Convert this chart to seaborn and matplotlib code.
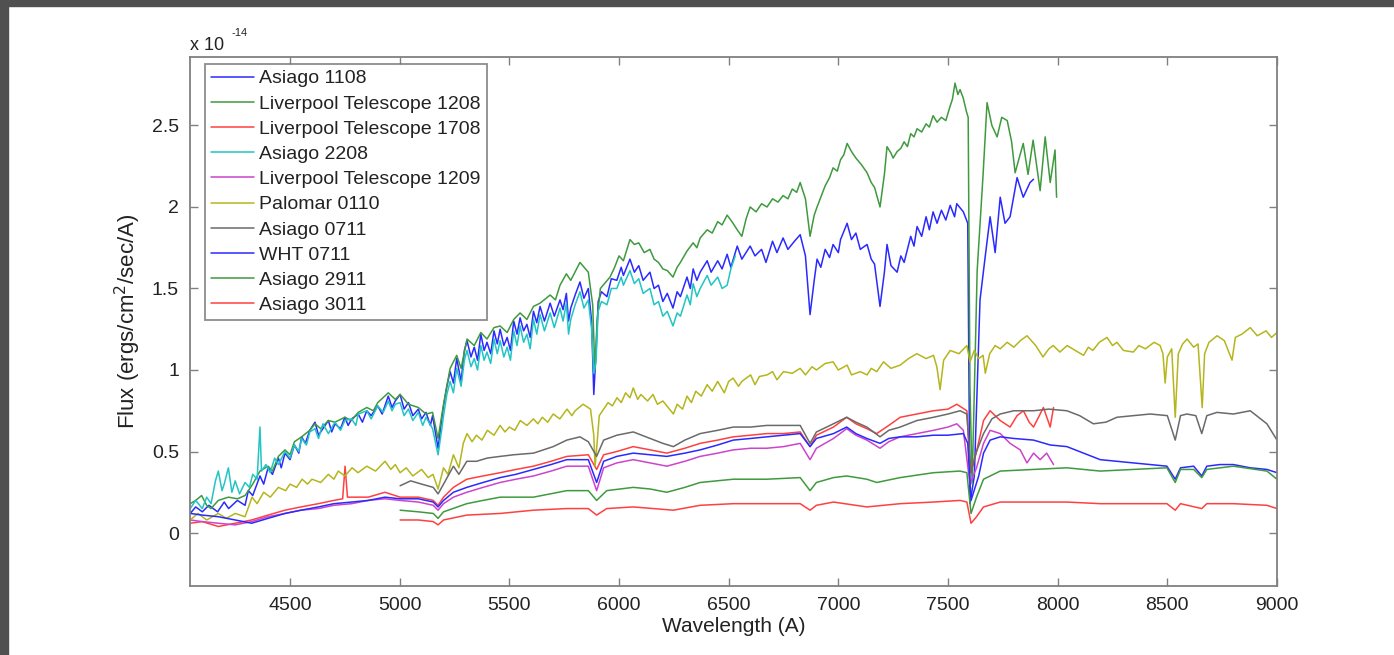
import numpy as np
import pandas as pd
import matplotlib
matplotlib.use('Agg')
import matplotlib.pyplot as plt
import seaborn as sns
from matplotlib.patches import Rectangle

# 1. Data (flux in units of 1e-14 ergs/cm2/sec/A)
wl_asiago_1108 = [4045, 4070, 4100, 4130, 4170, 4200, 4220, 4260, 4295, 4310, 4330, 4363, 4380, 4400, 4420,
                  4447, 4460, 4477, 4500, 4520, 4540, 4553, 4570, 4590, 4614, 4630, 4650, 4675, 4690, 4705,
                  4730, 4750, 4765, 4781, 4811, 4830, 4850, 4870, 4900, 4920, 4948, 4965, 4980, 5002, 5020,
                  5040, 5060, 5085, 5100, 5120, 5140, 5150, 5175, 5190, 5200, 5215, 5230, 5245, 5260, 5280,
                  5295, 5307, 5325, 5340, 5355, 5370, 5385, 5398, 5415, 5430, 5445, 5458, 5475, 5490, 5505,
                  5520, 5535, 5549, 5565, 5580, 5595, 5610, 5625, 5640, 5660, 5686, 5705, 5731, 5745, 5760,
                  5770, 5780, 5800, 5822, 5840, 5860, 5875, 5885, 5895, 5905, 5920, 5945, 5965, 5990, 6010,
                  6020, 6050, 6070, 6090, 6110, 6141, 6160, 6180, 6200, 6220, 6246, 6265, 6280, 6310, 6325,
                  6338, 6355, 6370, 6402, 6420, 6450, 6470, 6493, 6510, 6539, 6560, 6598, 6620, 6650, 6670,
                  6700, 6720, 6748, 6770, 6800, 6826, 6850, 6871, 6890, 6903, 6920, 6940, 6960, 6976, 7000,
                  7010, 7040, 7060, 7080, 7100, 7131, 7150, 7165, 7190, 7210, 7222, 7240, 7268, 7285, 7300,
                  7330, 7345, 7359, 7380, 7400, 7415, 7432, 7450, 7470, 7490, 7510, 7530, 7540, 7570, 7590,
                  7600, 7620, 7646, 7670, 7692, 7715, 7738, 7760, 7783, 7815, 7843, 7874, 7890]
fx_asiago_1108 = [0.12, 0.16, 0.13, 0.17, 0.13, 0.19, 0.15, 0.20, 0.17, 0.26, 0.23, 0.35, 0.30, 0.40, 0.36,
                  0.46, 0.40, 0.49, 0.45, 0.54, 0.49, 0.59, 0.55, 0.63, 0.68, 0.60, 0.64, 0.69, 0.62, 0.67,
                  0.64, 0.71, 0.66, 0.70, 0.73, 0.68, 0.75, 0.72, 0.78, 0.73, 0.84, 0.77, 0.81, 0.85, 0.76,
                  0.80, 0.72, 0.76, 0.70, 0.74, 0.66, 0.72, 0.52, 0.68, 0.78, 0.90, 0.99, 0.92, 1.07, 0.93,
                  1.12, 1.18, 1.08, 1.14, 1.06, 1.22, 1.12, 1.17, 1.10, 1.24, 1.16, 1.25, 1.15, 1.20, 1.12,
                  1.30, 1.22, 1.32, 1.24, 1.28, 1.20, 1.36, 1.29, 1.39, 1.30, 1.41, 1.33, 1.43, 1.37, 1.47,
                  1.30, 1.38, 1.46, 1.54, 1.44, 1.50, 1.30, 0.85, 1.10, 1.42, 1.48, 1.45, 1.56, 1.55, 1.63,
                  1.58, 1.68, 1.60, 1.64, 1.55, 1.60, 1.50, 1.52, 1.42, 1.47, 1.38, 1.48, 1.45, 1.57, 1.50,
                  1.62, 1.55, 1.60, 1.67, 1.60, 1.67, 1.62, 1.71, 1.63, 1.76, 1.68, 1.76, 1.70, 1.74, 1.66,
                  1.79, 1.72, 1.81, 1.74, 1.79, 1.83, 1.70, 1.34, 1.55, 1.68, 1.63, 1.74, 1.69, 1.77, 1.72,
                  1.80, 1.90, 1.80, 1.84, 1.74, 1.77, 1.68, 1.65, 1.39, 1.60, 1.77, 1.64, 1.60, 1.70, 1.66,
                  1.82, 1.76, 1.88, 1.82, 1.94, 1.86, 1.97, 1.90, 1.98, 1.92, 2.01, 1.94, 2.02, 1.97, 1.90,
                  0.18, 0.35, 1.43, 1.70, 1.94, 1.72, 2.06, 1.90, 1.94, 2.18, 2.06, 2.15, 2.17]

wl_lt_1208 = [4045, 4070, 4097, 4120, 4140, 4173, 4219, 4260, 4295, 4330, 4363, 4400,
              4420, 4447, 4477, 4500, 4520, 4553, 4590, 4614, 4640, 4675, 4705, 4750,
              4780, 4811, 4850, 4880, 4900, 4948, 4980, 5002, 5040, 5085, 5120, 5150,
              5175, 5200, 5230, 5260, 5280, 5307, 5340, 5370, 5398, 5430, 5458, 5490,
              5520, 5549, 5580, 5610, 5640, 5686, 5710, 5731, 5760, 5780, 5822, 5860,
              5880, 5890, 5900, 5915, 5959, 5980, 6000, 6020, 6050, 6070, 6090, 6115,
              6141, 6160, 6180, 6200, 6220, 6246, 6265, 6280, 6310, 6338, 6355, 6370,
              6402, 6425, 6450, 6470, 6493, 6515, 6539, 6560, 6580, 6598, 6625, 6650,
              6675, 6700, 6725, 6748, 6770, 6790, 6810, 6826, 6850, 6871, 6890, 6903,
              6920, 6940, 6960, 6976, 6995, 7010, 7025, 7040, 7060, 7080, 7105, 7131,
              7150, 7165, 7190, 7210, 7222, 7240, 7250, 7268, 7285, 7300, 7315, 7330,
              7345, 7359, 7380, 7400, 7415, 7432, 7450, 7470, 7490, 7510, 7520, 7532,
              7545, 7555, 7569, 7585, 7592, 7600, 7610, 7633, 7660, 7678, 7700, 7724,
              7745, 7770, 7790, 7806, 7843, 7865, 7888, 7920, 7943, 7966, 7988, 7995]
fx_lt_1208 = [0.18, 0.20, 0.23, 0.17, 0.15, 0.20, 0.22, 0.21, 0.23, 0.30, 0.38, 0.41,
              0.38, 0.47, 0.51, 0.48, 0.56, 0.59, 0.63, 0.67, 0.64, 0.69, 0.68, 0.71,
              0.69, 0.74, 0.77, 0.75, 0.80, 0.86, 0.82, 0.85, 0.79, 0.77, 0.73, 0.74,
              0.58, 0.79, 1.01, 1.09, 1.01, 1.19, 1.15, 1.23, 1.19, 1.26, 1.27, 1.23,
              1.31, 1.35, 1.31, 1.39, 1.41, 1.46, 1.43, 1.52, 1.59, 1.55, 1.66, 1.60,
              1.40, 1.00, 1.30, 1.50, 1.57, 1.63, 1.70, 1.67, 1.80, 1.77, 1.78, 1.72,
              1.74, 1.68, 1.66, 1.62, 1.61, 1.57, 1.63, 1.66, 1.73, 1.78, 1.75, 1.81,
              1.86, 1.84, 1.91, 1.89, 1.95, 1.91, 1.86, 1.82, 1.93, 2.00, 1.97, 2.02,
              2.00, 2.05, 2.03, 2.07, 2.05, 2.11, 2.09, 2.15, 2.05, 1.82, 1.95, 2.00,
              2.06, 2.13, 2.18, 2.24, 2.22, 2.29, 2.32, 2.39, 2.34, 2.30, 2.26, 2.21,
              2.15, 2.12, 2.00, 2.20, 2.37, 2.33, 2.30, 2.34, 2.36, 2.40, 2.37, 2.45,
              2.43, 2.48, 2.46, 2.51, 2.49, 2.56, 2.52, 2.55, 2.53, 2.62, 2.66, 2.76,
              2.69, 2.72, 2.67, 2.58, 2.55, 0.90, 0.30, 1.61, 2.20, 2.64, 2.50, 2.43,
              2.55, 2.53, 2.40, 2.21, 2.39, 2.20, 2.41, 2.10, 2.43, 2.15, 2.35, 2.06]

wl_lt_1708 = [4045, 4100, 4173, 4250, 4325, 4400, 4477, 4550, 4629, 4700, 4740, 4751, 4762, 4811, 4857,
              4933, 5002, 5085, 5153, 5175, 5200, 5245, 5306, 5380, 5458, 5530, 5610, 5690, 5762, 5860,
              5898, 5930, 5990, 6065, 6142, 6218, 6300, 6370, 6450, 6521, 6600, 6674, 6750, 6826, 6871,
              6900, 6978, 7038, 7080, 7130, 7175, 7230, 7282, 7358, 7434, 7500, 7540, 7586, 7601, 7630,
              7662, 7692, 7738, 7783, 7815, 7844, 7870, 7890, 7935, 7966, 7981]
fx_lt_1708 = [0.06, 0.07, 0.04, 0.06, 0.08, 0.11, 0.14, 0.16, 0.18, 0.20, 0.21, 0.41, 0.22, 0.22, 0.22,
              0.25, 0.22, 0.22, 0.20, 0.17, 0.22, 0.28, 0.33, 0.35, 0.37, 0.39, 0.41, 0.44, 0.47, 0.48,
              0.39, 0.48, 0.50, 0.53, 0.51, 0.49, 0.52, 0.55, 0.57, 0.59, 0.60, 0.61, 0.61, 0.62, 0.53,
              0.60, 0.65, 0.71, 0.67, 0.64, 0.61, 0.66, 0.71, 0.73, 0.75, 0.76, 0.79, 0.75, 0.37, 0.50,
              0.69, 0.75, 0.69, 0.65, 0.72, 0.75, 0.68, 0.65, 0.77, 0.65, 0.77]

wl_asiago_2208 = [4045, 4070, 4100, 4120, 4140, 4160, 4173, 4190, 4200, 4219, 4235, 4250, 4270, 4295, 4315,
                  4330, 4350, 4363, 4370, 4390, 4410, 4430, 4447, 4477, 4500, 4520, 4540, 4553, 4575, 4590,
                  4614, 4630, 4650, 4675, 4705, 4730, 4750, 4781, 4800, 4811, 4850, 4870, 4900, 4925, 4948,
                  4965, 4980, 5002, 5020, 5040, 5060, 5085, 5105, 5120, 5150, 5175, 5190, 5200, 5215, 5230,
                  5245, 5260, 5280, 5295, 5307, 5325, 5340, 5355, 5370, 5385, 5398, 5415, 5430, 5445, 5458,
                  5475, 5490, 5505, 5520, 5535, 5549, 5565, 5580, 5595, 5610, 5625, 5640, 5660, 5686, 5705,
                  5731, 5745, 5760, 5770, 5780, 5800, 5822, 5840, 5860, 5875, 5885, 5895, 5905, 5920, 5945,
                  5965, 5990, 6010, 6020, 6050, 6070, 6090, 6110, 6141, 6160, 6180, 6200, 6220, 6246, 6265,
                  6280, 6310, 6325, 6338, 6355, 6370, 6402, 6420, 6450, 6470, 6493, 6510, 6530]
fx_asiago_2208 = [0.15, 0.20, 0.15, 0.22, 0.18, 0.32, 0.38, 0.26, 0.30, 0.40, 0.25, 0.32, 0.24, 0.31, 0.28,
                  0.36, 0.33, 0.65, 0.38, 0.42, 0.37, 0.46, 0.42, 0.50, 0.46, 0.54, 0.50, 0.58, 0.54, 0.62,
                  0.64, 0.58, 0.67, 0.61, 0.68, 0.63, 0.69, 0.70, 0.66, 0.73, 0.75, 0.70, 0.78, 0.74, 0.81,
                  0.75, 0.79, 0.80, 0.72, 0.76, 0.69, 0.74, 0.66, 0.71, 0.64, 0.48, 0.62, 0.72, 0.85, 0.93,
                  0.86, 1.01, 0.90, 1.06, 1.12, 1.02, 1.07, 1.00, 1.15, 1.06, 1.11, 1.04, 1.19, 1.10, 1.18,
                  1.08, 1.14, 1.06, 1.24, 1.15, 1.27, 1.17, 1.22, 1.13, 1.31, 1.22, 1.34, 1.24, 1.35, 1.26,
                  1.38, 1.30, 1.41, 1.22, 1.31, 1.40, 1.48, 1.38, 1.43, 1.25, 0.98, 1.05, 1.36, 1.42, 1.40,
                  1.50, 1.50, 1.57, 1.52, 1.61, 1.53, 1.56, 1.47, 1.50, 1.40, 1.42, 1.33, 1.36, 1.27, 1.35,
                  1.33, 1.46, 1.40, 1.53, 1.45, 1.50, 1.58, 1.52, 1.57, 1.50, 1.52, 1.62, 1.70]

wl_lt_1209 = [4045, 4100, 4173, 4250, 4325, 4400, 4477, 4550, 4629, 4700, 4781, 4857, 4933, 5002, 5085,
              5153, 5175, 5200, 5245, 5306, 5380, 5458, 5530, 5610, 5690, 5762, 5860, 5898, 5930, 5990,
              6065, 6142, 6218, 6300, 6370, 6450, 6521, 6600, 6674, 6750, 6826, 6871, 6900, 6978, 7038,
              7080, 7130, 7190, 7230, 7282, 7358, 7434, 7500, 7540, 7570, 7600, 7630, 7662, 7692, 7738,
              7783, 7829, 7860, 7890, 7920, 7950, 7981]
fx_lt_1209 = [0.08, 0.07, 0.06, 0.05, 0.07, 0.10, 0.12, 0.14, 0.15, 0.17, 0.18, 0.20, 0.21, 0.20, 0.19,
              0.17, 0.14, 0.18, 0.22, 0.25, 0.28, 0.31, 0.33, 0.35, 0.38, 0.41, 0.41, 0.26, 0.40, 0.43,
              0.45, 0.43, 0.41, 0.44, 0.47, 0.49, 0.51, 0.52, 0.52, 0.53, 0.55, 0.45, 0.52, 0.58, 0.64,
              0.60, 0.57, 0.52, 0.56, 0.59, 0.61, 0.63, 0.65, 0.67, 0.63, 0.30, 0.40, 0.55, 0.63, 0.61,
              0.55, 0.51, 0.43, 0.49, 0.45, 0.49, 0.42]

wl_palomar_0110 = [4045, 4080, 4120, 4173, 4210, 4250, 4295, 4327, 4350, 4380, 4410, 4447, 4480, 4500, 4530,
                   4555, 4580, 4600, 4640, 4675, 4700, 4720, 4750, 4783, 4810, 4850, 4890, 4933, 4960, 4980,
                   5002, 5030, 5060, 5100, 5130, 5152, 5175, 5200, 5220, 5245, 5270, 5290, 5307, 5330, 5350,
                   5375, 5400, 5430, 5458, 5480, 5500, 5525, 5550, 5580, 5610, 5630, 5650, 5675, 5700, 5730,
                   5763, 5785, 5800, 5836, 5870, 5885, 5891, 5900, 5910, 5950, 5970, 5991, 6010, 6030, 6050,
                   6065, 6085, 6100, 6130, 6155, 6175, 6200, 6230, 6248, 6265, 6290, 6310, 6330, 6350, 6375,
                   6402, 6425, 6450, 6480, 6500, 6520, 6545, 6560, 6600, 6620, 6640, 6675, 6700, 6720, 6750,
                   6790, 6826, 6850, 6880, 6900, 6940, 6976, 7000, 7040, 7060, 7100, 7131, 7150, 7175, 7206,
                   7240, 7282, 7320, 7358, 7400, 7434, 7449, 7464, 7480, 7510, 7550, 7586, 7600, 7620, 7640,
                   7660, 7670, 7690, 7715, 7738, 7770, 7800, 7830, 7860, 7900, 7933, 7960, 7980, 8010, 8043,
                   8080, 8118, 8140, 8160, 8190, 8225, 8250, 8270, 8300, 8345, 8370, 8400, 8440, 8467, 8480,
                   8490, 8500, 8520, 8536, 8550, 8570, 8590, 8620, 8640, 8659, 8670, 8690, 8727, 8760, 8795,
                   8810, 8840, 8878, 8910, 8950, 8975, 9000]
fx_palomar_0110 = [0.08, 0.12, 0.08, 0.12, 0.09, 0.12, 0.10, 0.22, 0.18, 0.25, 0.22, 0.28, 0.26, 0.30, 0.28,
                   0.33, 0.30, 0.33, 0.31, 0.36, 0.33, 0.38, 0.35, 0.40, 0.37, 0.41, 0.38, 0.44, 0.39, 0.42,
                   0.37, 0.40, 0.35, 0.39, 0.34, 0.36, 0.27, 0.40, 0.36, 0.48, 0.40, 0.55, 0.61, 0.56, 0.60,
                   0.57, 0.63, 0.60, 0.66, 0.62, 0.65, 0.63, 0.69, 0.66, 0.70, 0.67, 0.71, 0.68, 0.73, 0.70,
                   0.76, 0.72, 0.75, 0.79, 0.76, 0.60, 0.41, 0.55, 0.72, 0.80, 0.78, 0.83, 0.80, 0.86, 0.83,
                   0.89, 0.82, 0.85, 0.81, 0.85, 0.79, 0.81, 0.76, 0.73, 0.79, 0.76, 0.84, 0.80, 0.87, 0.84,
                   0.91, 0.87, 0.93, 0.86, 0.93, 0.95, 0.90, 0.93, 0.97, 0.91, 0.96, 0.97, 0.99, 0.94, 0.99,
                   0.98, 1.01, 0.97, 1.02, 1.00, 1.04, 1.05, 1.00, 1.03, 0.97, 0.99, 0.97, 1.01, 0.99, 1.05,
                   1.01, 1.03, 1.07, 1.10, 1.07, 1.09, 1.02, 0.88, 1.06, 1.12, 1.10, 1.15, 1.05, 1.12, 1.07,
                   1.09, 0.98, 1.10, 1.15, 1.13, 1.17, 1.14, 1.18, 1.21, 1.15, 1.08, 1.13, 1.15, 1.11, 1.15,
                   1.12, 1.09, 1.14, 1.12, 1.17, 1.20, 1.15, 1.17, 1.12, 1.11, 1.15, 1.13, 1.17, 1.15, 1.10,
                   0.92, 1.08, 1.13, 0.71, 1.10, 1.16, 1.19, 1.14, 1.16, 0.77, 1.10, 1.17, 1.21, 1.18, 1.06,
                   1.20, 1.22, 1.26, 1.21, 1.24, 1.20, 1.23]

wl_asiago_0711 = [5002, 5050, 5100, 5153, 5175, 5200, 5245, 5270, 5306, 5350, 5400, 5458, 5520, 5610, 5700,
                  5762, 5822, 5860, 5898, 5930, 5990, 6065, 6142, 6200, 6248, 6300, 6370, 6450, 6521, 6600,
                  6674, 6750, 6826, 6871, 6900, 6947, 7038, 7080, 7130, 7190, 7230, 7282, 7358, 7434, 7500,
                  7555, 7586, 7605, 7630, 7662, 7700, 7738, 7800, 7890, 7960, 8042, 8100, 8163, 8220, 8270,
                  8345, 8422, 8500, 8536, 8560, 8589, 8630, 8657, 8680, 8726, 8801, 8878, 8954, 9000]
fx_asiago_0711 = [0.29, 0.32, 0.30, 0.28, 0.24, 0.30, 0.41, 0.36, 0.44, 0.44, 0.46, 0.47, 0.48, 0.49, 0.53,
                  0.57, 0.59, 0.56, 0.47, 0.57, 0.60, 0.62, 0.58, 0.55, 0.53, 0.57, 0.61, 0.63, 0.65, 0.65,
                  0.66, 0.66, 0.66, 0.55, 0.62, 0.65, 0.71, 0.68, 0.65, 0.59, 0.63, 0.65, 0.69, 0.71, 0.73,
                  0.75, 0.73, 0.37, 0.50, 0.61, 0.70, 0.73, 0.75, 0.75, 0.76, 0.75, 0.72, 0.67, 0.68, 0.71,
                  0.72, 0.73, 0.72, 0.57, 0.72, 0.73, 0.72, 0.61, 0.72, 0.74, 0.73, 0.75, 0.67, 0.57]

wl_wht_0711 = [4045, 4100, 4173, 4250, 4325, 4400, 4477, 4550, 4629, 4700, 4781, 4857, 4933, 5002, 5085,
               5153, 5175, 5200, 5245, 5306, 5380, 5458, 5530, 5610, 5690, 5762, 5860, 5898, 5930, 5990,
               6065, 6142, 6218, 6300, 6370, 6450, 6521, 6600, 6674, 6750, 6826, 6871, 6900, 6978, 7038,
               7080, 7130, 7190, 7230, 7282, 7358, 7434, 7500, 7570, 7590, 7605, 7640, 7662, 7692, 7738,
               7800, 7890, 7966, 8042, 8118, 8194, 8270, 8345, 8422, 8498, 8536, 8560, 8620, 8657, 8680,
               8740, 8801, 8878, 8954, 9000]
fx_wht_0711 = [0.12, 0.11, 0.10, 0.08, 0.06, 0.09, 0.12, 0.14, 0.16, 0.18, 0.19, 0.20, 0.22, 0.21, 0.21,
               0.19, 0.16, 0.20, 0.25, 0.28, 0.31, 0.34, 0.36, 0.39, 0.42, 0.45, 0.45, 0.31, 0.44, 0.47,
               0.49, 0.48, 0.47, 0.49, 0.51, 0.54, 0.57, 0.58, 0.59, 0.60, 0.61, 0.53, 0.58, 0.61, 0.65,
               0.61, 0.58, 0.55, 0.58, 0.59, 0.59, 0.60, 0.60, 0.61, 0.55, 0.20, 0.35, 0.49, 0.57, 0.59,
               0.58, 0.57, 0.54, 0.53, 0.49, 0.45, 0.44, 0.43, 0.42, 0.41, 0.33, 0.40, 0.41, 0.35, 0.41,
               0.42, 0.42, 0.40, 0.39, 0.37]

wl_asiago_2911 = [5002, 5085, 5153, 5175, 5200, 5306, 5380, 5458, 5610, 5762, 5860, 5898, 5944, 6065, 6142,
                  6218, 6300, 6370, 6521, 6674, 6826, 6871, 6900, 6978, 7038, 7130, 7175, 7282, 7434, 7555,
                  7586, 7605, 7630, 7662, 7738, 7890, 8042, 8194, 8345, 8498, 8536, 8560, 8620, 8657, 8680,
                  8801, 8954, 9000]
fx_asiago_2911 = [0.14, 0.13, 0.12, 0.09, 0.13, 0.18, 0.20, 0.22, 0.22, 0.26, 0.26, 0.20, 0.26, 0.28, 0.27,
                  0.25, 0.28, 0.31, 0.33, 0.33, 0.34, 0.26, 0.31, 0.34, 0.35, 0.33, 0.31, 0.34, 0.37, 0.38,
                  0.37, 0.12, 0.22, 0.33, 0.38, 0.39, 0.40, 0.38, 0.39, 0.40, 0.31, 0.39, 0.39, 0.34, 0.39,
                  0.41, 0.38, 0.33]

wl_asiago_3011 = [5002, 5085, 5153, 5175, 5200, 5306, 5458, 5610, 5762, 5860, 5898, 5944, 6065, 6248, 6370,
                  6521, 6674, 6826, 6871, 6900, 6978, 7130, 7282, 7434, 7555, 7586, 7605, 7630, 7662, 7738,
                  7890, 8042, 8194, 8345, 8498, 8536, 8560, 8657, 8680, 8801, 8954, 9000]
fx_asiago_3011 = [0.08, 0.08, 0.07, 0.05, 0.08, 0.11, 0.12, 0.14, 0.15, 0.15, 0.11, 0.15, 0.16, 0.14, 0.17,
                  0.18, 0.18, 0.18, 0.14, 0.17, 0.19, 0.16, 0.18, 0.19, 0.20, 0.19, 0.06, 0.10, 0.16, 0.19,
                  0.19, 0.19, 0.18, 0.18, 0.18, 0.14, 0.18, 0.15, 0.18, 0.18, 0.17, 0.15]

labels = ['Asiago 1108', 'Liverpool Telescope 1208', 'Liverpool Telescope 1708', 'Asiago 2208',
          'Liverpool Telescope 1209', 'Palomar 0110', 'Asiago 0711', 'WHT 0711', 'Asiago 2911', 'Asiago 3011']
series = [(wl_asiago_1108, fx_asiago_1108), (wl_lt_1208, fx_lt_1208), (wl_lt_1708, fx_lt_1708),
          (wl_asiago_2208, fx_asiago_2208), (wl_lt_1209, fx_lt_1209), (wl_palomar_0110, fx_palomar_0110),
          (wl_asiago_0711, fx_asiago_0711), (wl_wht_0711, fx_wht_0711), (wl_asiago_2911, fx_asiago_2911),
          (wl_asiago_3011, fx_asiago_3011)]
colors = ['#2a2aff', '#3f9a3f', '#ff4040', '#22c4c4', '#cc44cc', '#b5b51e', '#6a6a6a', '#2a2aff', '#3f9a3f', '#ff4040']

# 2. Figure setup
sns.set_style('ticks')
plt.rcParams['font.family'] = ['Liberation Sans', 'DejaVu Sans']

W, H = 1394, 655
fig = plt.figure(figsize=(W / 100, H / 100), dpi=100)
fig.patch.set_facecolor('white')
# dark slide border (left and top)
fig.add_artist(Rectangle((0, 0), 8 / W, 1, transform=fig.transFigure, color='#505050', zorder=0))
fig.add_artist(Rectangle((0, 1 - 6 / H), 1, 6 / H, transform=fig.transFigure, color='#505050', zorder=0))

ax = fig.add_axes([190 / W, 1 - 586 / H, (1277 - 190) / W, (586 - 57) / H])

# 3. Plot spectra
for (wl, fx), lab, col in zip(series, labels, colors):
    df = pd.DataFrame({'wl': wl, 'flux': fx})
    sns.lineplot(data=df, x='wl', y='flux', ax=ax, color=col, label=lab,
                 linewidth=1.1, estimator=None, sort=False)

ax.set_xlim(4044, 9000)
ax.set_ylim(-0.325, 2.92)
ax.set_xticks(np.arange(4500, 9001, 500))
ax.set_yticks([0, 0.5, 1, 1.5, 2, 2.5])
ax.set_yticklabels(['0', '0.5', '1', '1.5', '2', '2.5'])
ax.tick_params(direction='in', length=6, width=1, color='#808080', labelsize=14,
               labelcolor='#222222', top=True, right=True, pad=8)
for sp in ax.spines.values():
    sp.set_visible(True)
    sp.set_color('#808080')
    sp.set_linewidth(1.3)

ax.set_xlabel('Wavelength (A)', fontsize=15, color='#222222', labelpad=2)
ax.set_ylabel('Flux (ergs/cm$^2$/sec/A)', fontsize=16, color='#222222', labelpad=6)
fig.text(190 / W, 1 - 50 / H, 'x 10', fontsize=13, color='#222222')
fig.text(232 / W, 1 - 36 / H, '-14', fontsize=8, color='#222222')

leg = ax.legend(loc='upper left', bbox_to_anchor=(205 / W, 1 - 64 / H), bbox_transform=fig.transFigure,
                borderaxespad=0, fontsize=14, frameon=True, fancybox=False, handlelength=2.2,
                handletextpad=0.3, labelspacing=0.39, borderpad=0.3)
leg.get_frame().set_edgecolor('#707070')
leg.get_frame().set_linewidth(1.3)
for t in leg.get_texts():
    t.set_color('#222222')

fig.savefig('out.png', dpi=100)
